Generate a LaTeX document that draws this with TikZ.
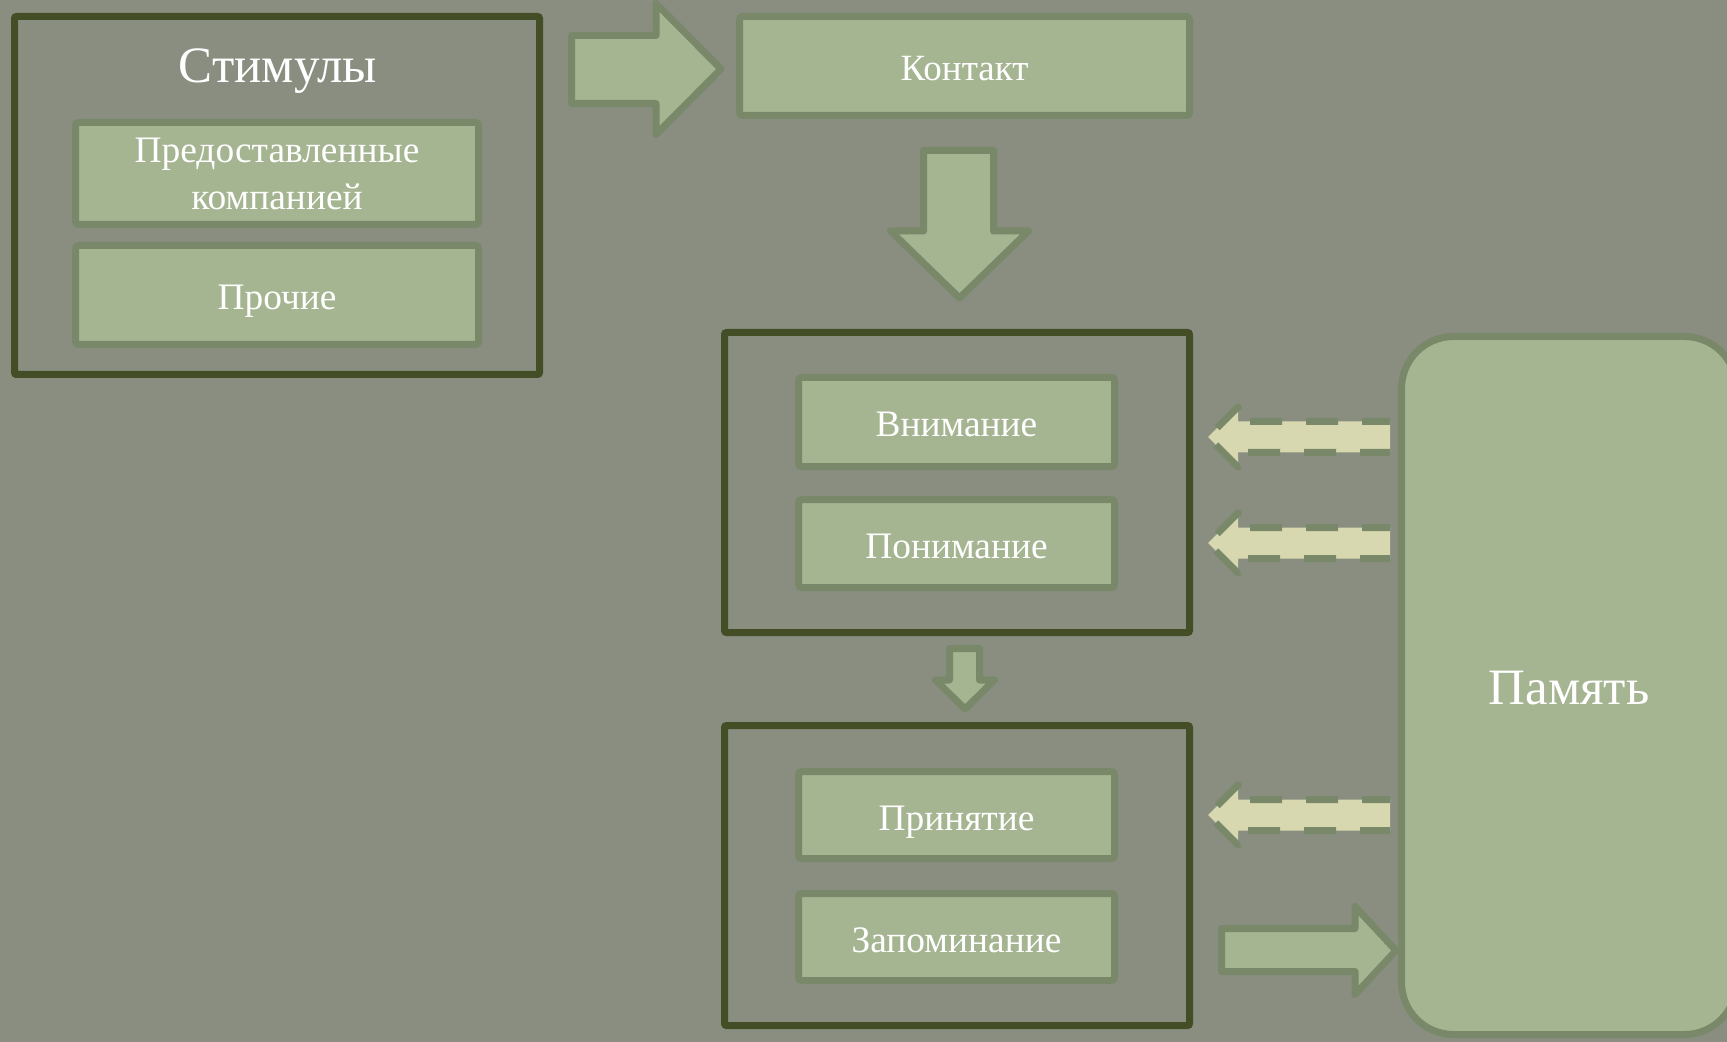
\documentclass[tikz,border=0pt]{standalone}
\usepackage{fontspec}
\setmainfont{Liberation Serif}
\definecolor{bgC}{RGB}{137,142,128}
\definecolor{darkC}{RGB}{68,78,38}
\definecolor{bordC}{RGB}{122,136,106}
\definecolor{boxC}{RGB}{165,180,145}
\definecolor{creamC}{RGB}{216,216,176}
\tikzset{
  outerbox/.style={draw=darkC, line width=3.5pt, rounded corners=1pt, inner sep=0pt},
  greenbox/.style={draw=bordC, fill=boxC, line width=3.5pt, rounded corners=1.5pt, inner sep=0pt, text=white, font=\fontsize{18.7}{23.5}\selectfont},
  oneline/.style={text height=16.5pt, text depth=1.5pt},
  blockarrow/.style={draw=bordC, fill=boxC, line width=3.5pt, line join=round},
  dashfill/.style={fill=creamC},
  dashline/.style={draw=bordC, line width=3.5pt, dash pattern=on 16pt off 12pt, dash phase=2pt, line join=round},
  bigtext/.style={text=white, font=\fontsize{25.5}{30}\selectfont, anchor=base}
}
\begin{document}
\begin{tikzpicture}[x=0.5pt, y=-0.5pt]
\fill[bgC] (0,0) rectangle (1727,1042);
\useasboundingbox (0,0) rectangle (1727,1042);
\clip (0,0) rectangle (1727,1042);

% Stimuli group
\node[outerbox, minimum width=262.5pt, minimum height=179pt] (stim) at (277,195.5) {};
\node[bigtext] (stimt) at (278,83) {Стимулы};
\node[greenbox, align=center, minimum width=201.5pt, minimum height=51pt] (pred) at (277,173.5) {Предоставленные\\компанией};
\node[greenbox, oneline, minimum width=201.5pt, minimum height=49.5pt] (proch) at (277,295) {Прочие};

% Contact
\node[greenbox, oneline, minimum width=225pt, minimum height=49.5pt, font=\fontsize{18.5}{22}\selectfont] (kont) at (964.5,66) {Контакт};

% Box 2
\node[outerbox, minimum width=232.5pt, minimum height=150pt] (grp2) at (957,482.5) {};
\node[greenbox, oneline, minimum width=158pt, minimum height=44.5pt] (vnim) at (956.5,422) {Внимание};
\node[greenbox, oneline, minimum width=158pt, minimum height=44pt] (ponim) at (956.5,543.5) {Понимание};

% Box 3
\node[outerbox, minimum width=232.5pt, minimum height=150pt] (grp3) at (957,875.5) {};
\node[greenbox, oneline, minimum width=158pt, minimum height=43.5pt] (prin) at (956.5,815) {Принятие};
\node[greenbox, oneline, minimum width=158pt, minimum height=43.5pt] (zapom) at (956.5,937) {Запоминание};

% Memory
\node[draw=bordC, fill=boxC, line width=3.5pt, rounded corners=26pt, minimum width=167.5pt, minimum height=349pt, inner sep=0pt] (pam) at (1569,685.5) {};
\node[bigtext] (pamt) at (1569,704) {Память};

% Block arrow: Stimuli -> Contact
\draw[blockarrow] (571.5,35.5) -- (656,35.5) -- (656,3.5) -- (721,69) -- (656,134.5) -- (656,103.5) -- (571.5,103.5) -- cycle;

% Block arrow: Contact -> group 2
\draw[blockarrow] (923.5,150.5) -- (993.5,150.5) -- (993.5,231) -- (1028.5,231) -- (959.5,298) -- (890.5,231) -- (923.5,231) -- cycle;

% Small arrow: group 2 -> group 3
\draw[blockarrow] (949.5,648.5) -- (979.5,648.5) -- (979.5,680) -- (994.5,680) -- (965,709) -- (935.5,680) -- (949.5,680) -- cycle;

% Arrow: Zapominanie -> Memory
\draw[blockarrow] (1221.5,928.5) -- (1355,928.5) -- (1355,906.5) -- (1396,950.5) -- (1355,994.5) -- (1355,971.5) -- (1221.5,971.5) -- cycle;

% Dashed arrows from Memory
\foreach \cy in {437, 543, 815}{
  \fill[dashfill] (1390,\cy-15.5) -- (1238,\cy-15.5) -- (1238,\cy-30) -- (1208,\cy) -- (1238,\cy+30) -- (1238,\cy+15.5) -- (1390,\cy+15.5) -- cycle;
  \draw[dashline] (1390,\cy-15.5) -- (1238,\cy-15.5) -- (1238,\cy-30) -- (1208,\cy) -- (1238,\cy+30) -- (1238,\cy+15.5) -- (1390,\cy+15.5);
}
\end{tikzpicture}
\end{document}
